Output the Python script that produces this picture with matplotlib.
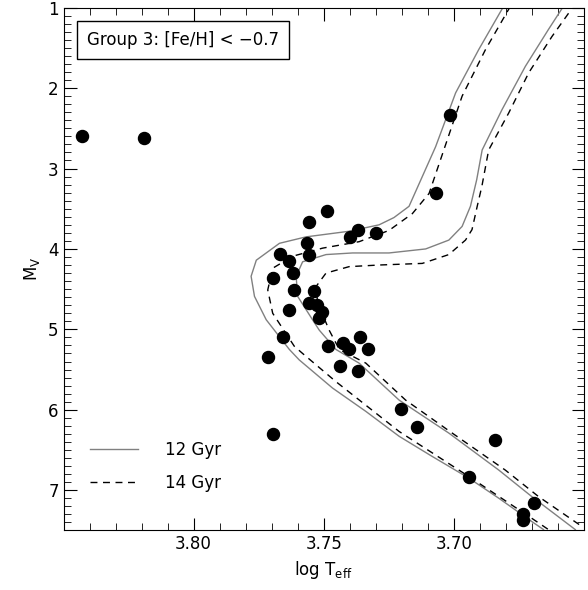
import matplotlib
matplotlib.use("Agg")
import matplotlib.pyplot as plt
from matplotlib.ticker import MultipleLocator, FixedLocator

# ── stars ───────────────────────────────────────────────────
star_teff = [3.8430, 3.8192, 3.7013, 3.7070, 3.7488, 3.7556, 3.7368, 3.7300,
             3.7398, 3.7566, 3.7667, 3.7635, 3.7556, 3.7617, 3.7696, 3.7616,
             3.7536, 3.7556, 3.7524, 3.7507, 3.7517, 3.7635, 3.7658, 3.7483,
             3.7424, 3.7360, 3.7402, 3.7328, 3.7715, 3.7438, 3.7370, 3.7204,
             3.7141, 3.6843, 3.6943, 3.6693, 3.6734, 3.6734, 3.7696]
star_mv = [2.60, 2.62, 2.34, 3.31, 3.53, 3.66, 3.76, 3.80,
           3.85, 3.92, 4.06, 4.15, 4.07, 4.30, 4.36, 4.51,
           4.52, 4.67, 4.70, 4.78, 4.86, 4.76, 5.09, 5.21,
           5.17, 5.10, 5.25, 5.25, 5.34, 5.46, 5.52, 5.99,
           6.21, 6.38, 6.84, 7.16, 7.29, 7.37, 6.30]

# ── isochrones (metal-poor pair = left, metal-richer pair = right) ──
iso12a_teff = [3.6808, 3.6904, 3.6993, 3.7070, 3.7121, 3.7172, 3.7230, 3.7287,
               3.7402, 3.7568, 3.7670, 3.7759, 3.7779, 3.7766, 3.7721, 3.7632,
               3.7594, 3.7466, 3.7338, 3.7210, 3.7083, 3.6942, 3.6827, 3.6700, 3.6655]
iso12a_mv = [0.98, 1.52, 2.06, 2.73, 3.10, 3.47, 3.61, 3.70,
             3.78, 3.85, 3.93, 4.14, 4.34, 4.59, 4.88, 5.25,
             5.38, 5.73, 6.02, 6.33, 6.58, 6.85, 7.10, 7.39, 7.49]

iso14a_teff = [3.6782, 3.6878, 3.6968, 3.7051, 3.7095, 3.7159, 3.7249, 3.7364,
               3.7504, 3.7619, 3.7696, 3.7715, 3.7696, 3.7613, 3.7581, 3.7453,
               3.7210, 3.6942, 3.6700, 3.6636]
iso14a_mv = [0.98, 1.52, 2.10, 2.89, 3.31, 3.56, 3.77, 3.91,
             3.99, 4.09, 4.24, 4.51, 4.80, 5.21, 5.30, 5.65,
             6.27, 6.83, 7.35, 7.49]

iso12b_teff = [3.6578, 3.6636, 3.6725, 3.6815, 3.6891, 3.6912, 3.6936, 3.6968,
               3.7019, 3.7108, 3.7249, 3.7389, 3.7491, 3.7581, 3.7606, 3.7600,
               3.7543, 3.7517, 3.7453, 3.7364, 3.7210, 3.7019, 3.6827, 3.6700, 3.6533]
iso12b_mv = [0.98, 1.27, 1.73, 2.27, 2.77, 3.14, 3.47, 3.72,
             3.89, 4.00, 4.05, 4.05, 4.07, 4.16, 4.34, 4.59,
             4.88, 5.01, 5.25, 5.42, 5.88, 6.29, 6.75, 7.08, 7.49]

iso14b_teff = [3.6559, 3.6623, 3.6712, 3.6789, 3.6866, 3.6892, 3.6910, 3.6930,
               3.6955, 3.7019, 3.7121, 3.7287, 3.7402, 3.7491, 3.7530, 3.7523,
               3.7479, 3.7440, 3.7338, 3.7185, 3.7006, 3.6802, 3.6674, 3.6508]
iso14b_mv = [1.07, 1.36, 1.81, 2.31, 2.77, 3.22, 3.47, 3.76,
             3.89, 4.07, 4.18, 4.20, 4.22, 4.30, 4.47, 4.67,
             5.01, 5.25, 5.42, 5.88, 6.29, 6.75, 7.08, 7.45]

x_major = [3.80, 3.75, 3.70]

GRAY = "#808080"

plt.rcParams["font.family"] = "DejaVu Sans"
fig = plt.figure(figsize=(5.88, 5.90), dpi=100)
ax = fig.add_axes([0.108, 0.101, 0.885, 0.886])

ax.plot(iso12a_teff, iso12a_mv, color=GRAY, lw=1.0, label="12 Gyr")
ax.plot(iso14a_teff, iso14a_mv, color="black", lw=1.0, ls=(0, (5, 4)), label="14 Gyr")
ax.plot(iso12b_teff, iso12b_mv, color=GRAY, lw=1.0)
ax.plot(iso14b_teff, iso14b_mv, color="black", lw=1.0, ls=(0, (5, 4)))
ax.scatter(star_teff, star_mv, s=75, color="black", zorder=3)

ax.set_xlim(3.85, 3.65)
ax.set_ylim(7.5, 1.0)
ax.xaxis.set_major_locator(FixedLocator(x_major))
ax.xaxis.set_minor_locator(MultipleLocator(0.01))
ax.yaxis.set_major_locator(MultipleLocator(1))
ax.yaxis.set_minor_locator(MultipleLocator(0.1))
ax.xaxis.set_major_formatter(matplotlib.ticker.FormatStrFormatter("%.2f"))
ax.tick_params(which="both", direction="in", top=True, right=True, labelsize=12)
ax.tick_params(which="major", length=9)
ax.tick_params(which="minor", length=5)
ax.set_xlabel(r"log T$_{\rm eff}$", fontsize=12)
ax.set_ylabel(r"M$_{\rm V}$", fontsize=12)

ax.text(0.045, 0.955, "Group 3: [Fe/H] < \u22120.7", transform=ax.transAxes,
        fontsize=12, va="top", ha="left",
        bbox=dict(boxstyle="square,pad=0.6", fc="white", ec="black", lw=1))

ax.legend(loc="center left", bbox_to_anchor=(0.051, 0.122), frameon=False,
          fontsize=12, handlelength=2.9, handletextpad=1.6, labelspacing=0.9,
          borderaxespad=0, borderpad=0)

plt.savefig("out.png", dpi=100)
